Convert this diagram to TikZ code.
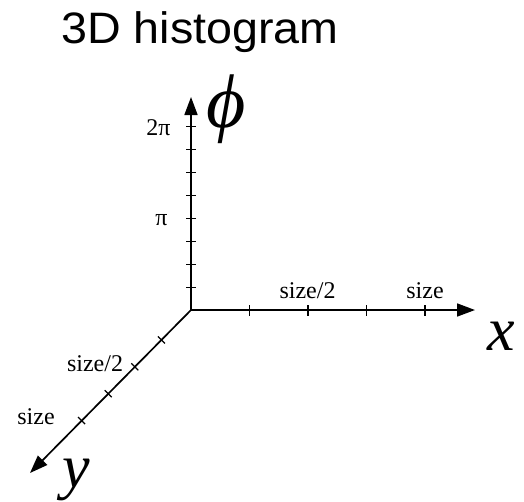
\documentclass[tikz,border=0pt]{standalone}
\usepackage{fontspec}
\setmainfont{Liberation Serif}
\newfontfamily\titlefont{Liberation Sans}
\usepackage{tikz}
\usetikzlibrary{arrows.meta}

\begin{document}
\begin{tikzpicture}[x=1pt,y=-1pt,axis/.style={-{Triangle[length=18pt,width=13pt]},line width=1.7pt},tick/.style={line width=1.2pt},ticklab/.style={font=\fontsize{24}{24}\selectfont,inner sep=0pt,anchor=base},axlab/.style={font=\fontsize{62}{62}\selectfont\itshape,inner sep=0pt,anchor=base}]
\useasboundingbox (0,0) rectangle (524,501);
\node[inner sep=0pt,anchor=base,font=\fontsize{44}{44}\titlefont] (title) at (200,43) {\scalebox{1.06}[1]{3D histogram}};
\coordinate (orig) at (191,310);
\coordinate (phiend) at (191,97);
\coordinate (xend) at (475,310);
\coordinate (yend) at (30,473);
\draw[axis] (orig) -- (phiend);
\draw[axis] (orig) -- (xend);
\draw[axis] (orig) -- (yend);
\foreach \i in {1,...,8} \draw[tick] (186,310-22.9*\i) -- (196,310-22.9*\i);
\foreach \i in {1,...,4} \draw[tick] (191+58.5*\i,305) -- (191+58.5*\i,316);
\foreach \i in {1,...,4} \draw[tick] (191-3-26.6*\i+3.5,310+3+26.9*\i+3.5) -- (191-3-26.6*\i-3.5,310+3+26.9*\i-3.5);
\node[ticklab] (twopi) at (158.5,135) {2π};
\node[ticklab] (pi) at (161.5,225) {π};
\node[ticklab] (xhalf) at (307.5,298) {size/2};
\node[ticklab] (xfull) at (425,298) {size};
\node[ticklab] (yhalf) at (95,371) {size/2};
\node[ticklab] (yfull) at (36,424) {size};
\node[axlab,anchor=center,font=\fontsize{76}{76}\selectfont\itshape] (philab) at (226,109) {ϕ};
\node[axlab] (xlab) at (501,350) {x};
\node[axlab] (ylab) at (76,487) {y};
\end{tikzpicture}
\end{document}
